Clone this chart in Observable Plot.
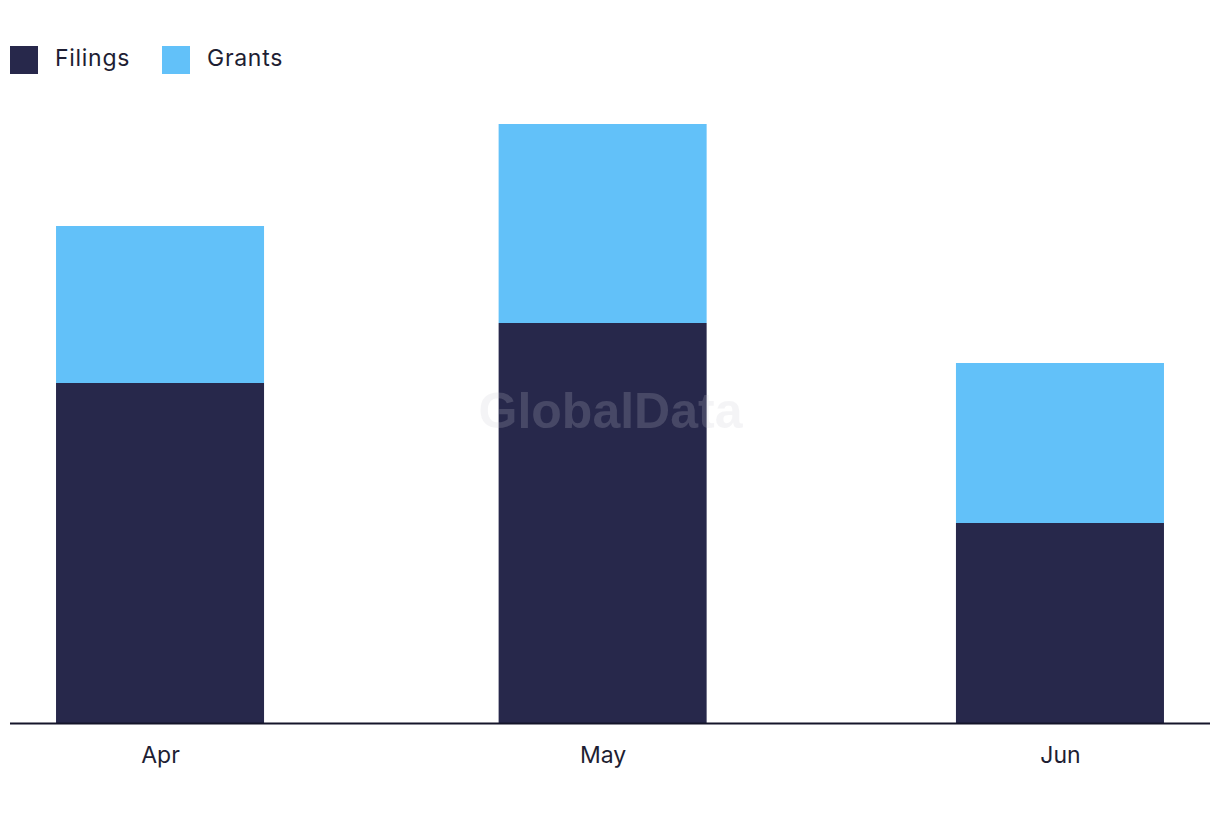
<!DOCTYPE html>
<html>
<head>
<meta charset="utf-8">
<script src="https://cdn.jsdelivr.net/npm/d3@7"></script>
<script src="https://cdn.jsdelivr.net/npm/@observablehq/plot@0.6"></script>
<style>
  html, body { margin: 0; padding: 0; background: #ffffff; }
  #wrap { position: relative; width: 1220px; height: 822px; font-family: Inter, "Open Sans", sans-serif; }
  #legend { position: absolute; left: 10px; top: 46px; display: flex; align-items: center; font-size: 23px; color: #1e1e33; letter-spacing: 0.7px; }
  .item { display: flex; align-items: center; margin-right: 32px; }
  .sw { width: 28px; height: 28px; margin-right: 17px; }
  .lab { position: relative; top: -2px; }
  #chart { position: absolute; left: 0; top: 0; }
</style>
</head>
<body>
<div id="wrap">
  <div id="chart"></div>
  <div id="legend"></div>
</div>
<script>
const months = ["2023-04-01", "2023-05-01", "2023-06-01"];
const seriesNames = ["Filings", "Grants"];
const filings = [17, 20, 10];
const grants = [7.85, 9.95, 8];
const colors = ["#27284b", "#62c1f9"];

const DAY = 864e5;
const dates = months.map(m => new Date(m + "T00:00:00Z"));
const rows = [];
dates.forEach((d, i) => {
  rows.push({date: d, series: seriesNames[0], value: filings[i]});
  rows.push({date: d, series: seriesNames[1], value: grants[i]});
});

const halfBar = 7.05 * DAY;
const pad = 10.17 * DAY;

const chart = Plot.plot({
  width: 1220,
  height: 822,
  marginLeft: 10,
  marginRight: 10,
  marginTop: 123,
  marginBottom: 99,
  style: { fontFamily: "Inter, 'Open Sans', sans-serif", fontSize: "23px", color: "#1e1e33", background: "transparent" },
  x: {
    type: "utc",
    domain: [new Date(+dates[0] - pad), new Date(+dates[dates.length - 1] + pad)],
    ticks: dates,
    tickFormat: d3.utcFormat("%b"),
    tickSize: 0,
    tickPadding: 23,
    label: null
  },
  y: { domain: [0, 30], axis: null },
  color: { domain: seriesNames, range: colors },
  marks: [
    Plot.rectY(rows, {
      x1: d => new Date(+d.date - halfBar),
      x2: d => new Date(+d.date + halfBar),
      y: "value",
      fill: "series"
    }),
    Plot.text(["GlobalData"], {
      frameAnchor: "middle",
      dy: -12,
      text: d => d,
      fontSize: 50,
      fontWeight: "bold",
      fontFamily: "'Liberation Sans', Arial, sans-serif",
      fill: "#c8c8d2",
      fillOpacity: 0.2
    }),
    Plot.ruleY([0], { stroke: "#15152a", strokeWidth: 2 })
  ]
});
document.getElementById("chart").appendChild(chart);

const legend = document.getElementById("legend");
seriesNames.forEach((name, i) => {
  const item = document.createElement("div");
  item.className = "item";
  const sw = document.createElement("div");
  sw.className = "sw";
  sw.style.background = colors[i];
  const lab = document.createElement("span");
  lab.className = "lab";
  lab.textContent = name;
  item.appendChild(sw);
  item.appendChild(lab);
  legend.appendChild(item);
});
</script>
</body>
</html>
